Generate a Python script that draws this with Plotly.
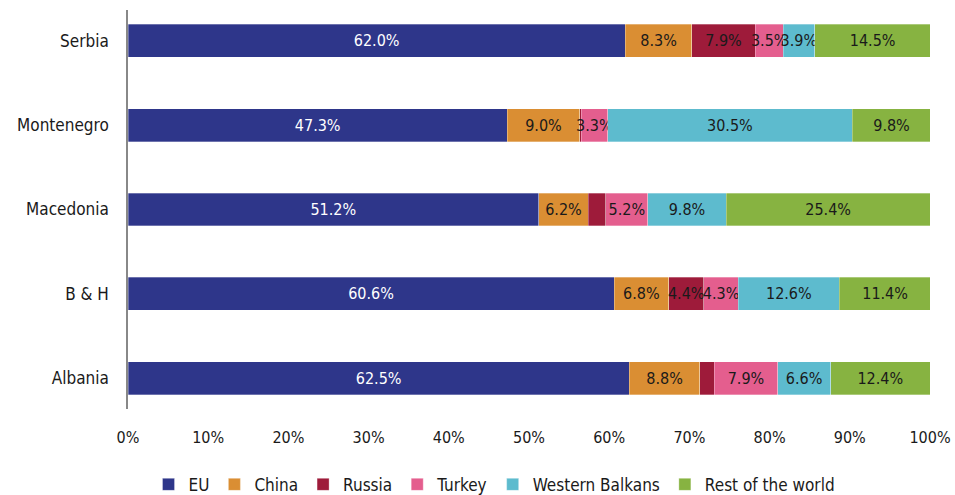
import plotly.graph_objects as go

countries = ["Albania", "B & H", "Macedonia", "Montenegro", "Serbia"]
series_names = ["EU", "China", "Russia", "Turkey", "Western Balkans", "Rest of the world"]
eu = [62.5, 60.6, 51.2, 47.3, 62.0]
china = [8.8, 6.8, 6.2, 9.0, 8.3]
russia = [1.8, 4.4, 2.2, 0.2, 7.9]
turkey = [7.9, 4.3, 5.2, 3.3, 3.5]
western_balkans = [6.6, 12.6, 9.8, 30.5, 3.9]
rest_of_world = [12.4, 11.4, 25.4, 9.8, 14.5]
x_ticks = [0, 10, 20, 30, 40, 50, 60, 70, 80, 90, 100]

values = [eu, china, russia, turkey, western_balkans, rest_of_world]
colors = ["#2E368A", "#DA8E33", "#9E1B3A", "#E45E8E", "#5DBBCE", "#87B341"]
text_colors = ["white", "#1a1a1a", "#1a1a1a", "#1a1a1a", "#1a1a1a", "#1a1a1a"]

FONT = "Liberation Sans Narrow, DejaVu Sans Condensed, Arial Narrow, Roboto Condensed, Roboto, sans-serif"

fig = go.Figure()
for name, vals, col, tcol in zip(series_names, values, colors, text_colors):
    fig.add_trace(go.Bar(
        y=countries, x=vals, name=name, orientation="h",
        marker=dict(color=col, line=dict(color="rgba(255,255,255,0.6)", width=0.5)),
        width=0.39,
        text=[f"{v:.1f}%" if v >= 3 else "" for v in vals],
        textposition="inside", insidetextanchor="middle", textangle=0,
        constraintext="none",
        textfont=dict(family=FONT, size=16, color=tcol),
        hoverinfo="x+y+name",
    ))

fig.update_layout(
    barmode="stack",
    width=955, height=495,
    margin=dict(l=128, r=25, t=10, b=86, autoexpand=False),
    paper_bgcolor="white", plot_bgcolor="white",
    font=dict(family=FONT, size=16, color="#1a1a1a"),
    uniformtext=dict(minsize=16, mode="show"),
    showlegend=True,
    legend=dict(orientation="h", x=0.457, xanchor="center", y=-0.19, yanchor="middle",
                font=dict(family=FONT, size=17, color="#1a1a1a"),
                itemwidth=30, tracegroupgap=0, traceorder="normal"),
    xaxis=dict(range=[0, 100], tickvals=x_ticks, ticktext=[f"{t}%" for t in x_ticks],
               showgrid=False, zeroline=False, showline=False,
               ticks="outside", ticklen=14, tickcolor="rgba(0,0,0,0)",
               tickfont=dict(family=FONT, size=16), fixedrange=True),
    yaxis=dict(categoryorder="array", categoryarray=countries,
               range=[-0.364, 4.364], showgrid=False, zeroline=False,
               showline=True, linecolor="#888888", linewidth=1.5,
               ticks="", ticklabelstandoff=14,
               tickfont=dict(family=FONT, size=17), fixedrange=True),
)

fig.write_html("out.html", config={"displayModeBar": False},
               post_script="document.body.style.margin='0';")
